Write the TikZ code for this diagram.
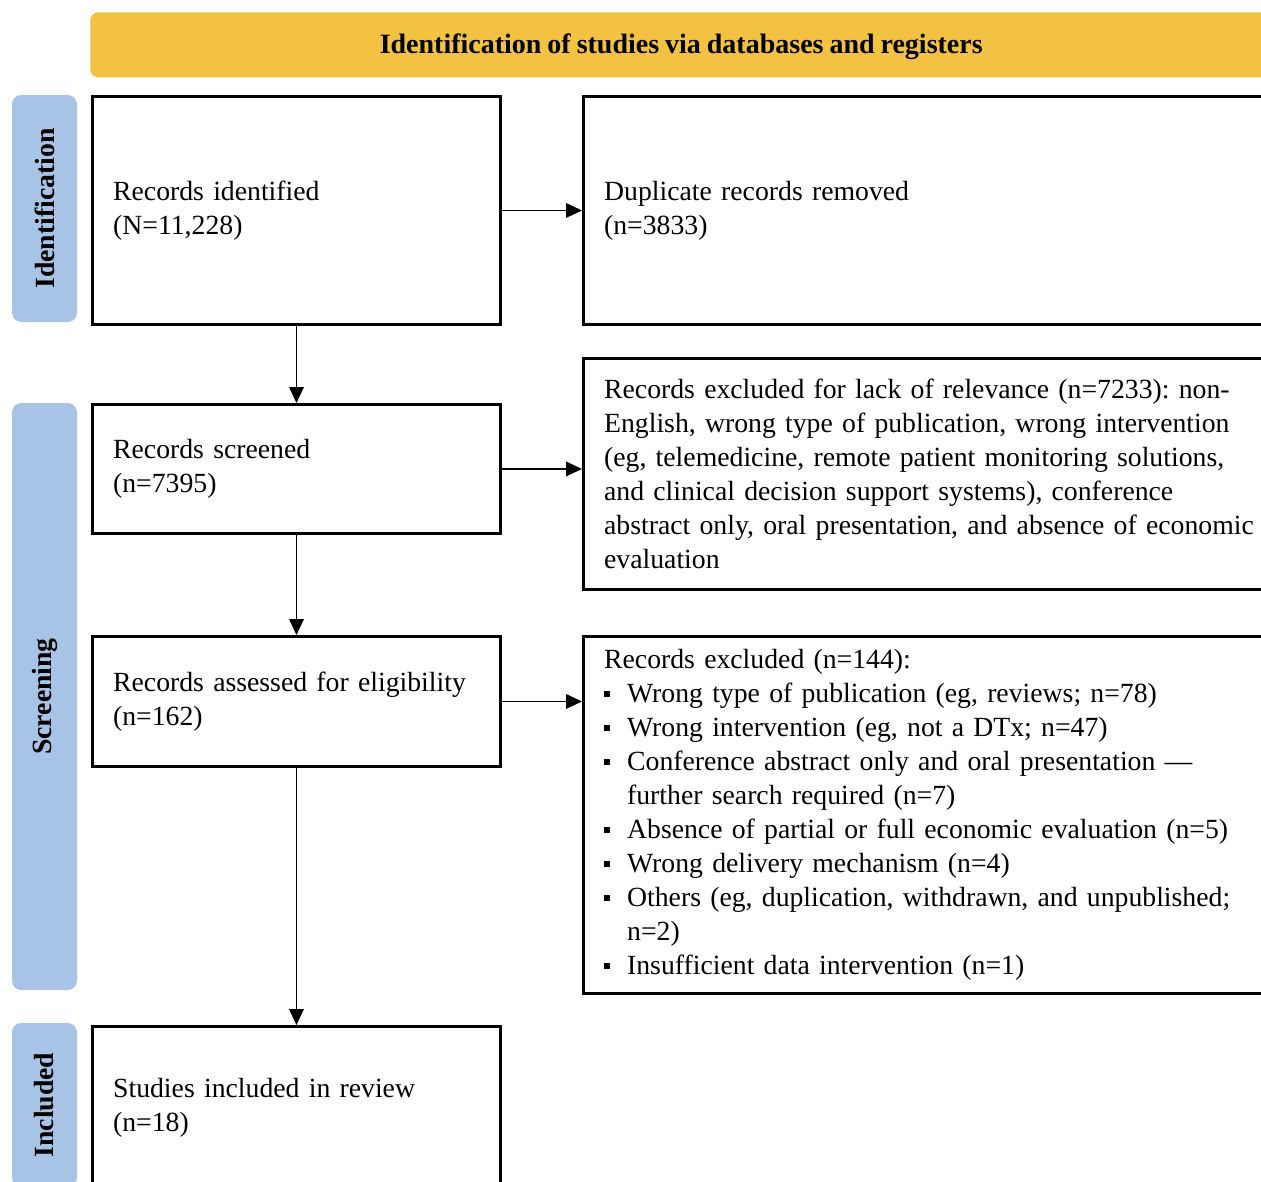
\documentclass[tikz,border=0pt]{standalone}
\usepackage{fontspec}
\setmainfont{Liberation Serif}[WordSpace=0.85]
\usetikzlibrary{arrows.meta}
\definecolor{banner}{RGB}{244,194,66}
\definecolor{sideblue}{RGB}{167,196,230}
\newcommand\bul{\makebox[17.25pt][l]{\rule[0.22em]{4.5pt}{4.5pt}}}
\newcommand\ind{\hspace*{17.25pt}}
\frenchspacing
\begin{document}
\begin{tikzpicture}[x=0.75pt,y=-0.75pt,
 txt/.style={font=\fontsize{20.8pt}{25.5pt}\selectfont\frenchspacing},
 box/.style={txt, draw, line width=2.2pt, anchor=north west, align=left, inner xsep=15.5pt, inner ysep=0pt},
 lbox/.style={box, text width=275pt, minimum width=306pt},
 rbox/.style={box, text width=510pt},
 side/.style={fill=sideblue, rounded corners=7pt, rotate=90, font=\fontsize{20.8pt}{25.5pt}\selectfont\bfseries, minimum height=48.75pt, inner sep=0pt},
 conn/.style={line width=1.1pt, -{Triangle[length=12pt,width=11pt]}}
]
\clip (0,0) rectangle (1261,1182);
\fill[white] (0,0) rectangle (1261,1182);
% banner
\node[fill=banner, rounded corners=6pt, anchor=north west, minimum width=886.5pt, minimum height=48.75pt, inner sep=0pt, text height=15.8pt, text depth=2pt, font=\fontsize{21pt}{25.5pt}\selectfont\bfseries] (ban) at (90,12) {Identification of studies via databases and registers};
% side labels
\node[side, minimum width=170.25pt] (sid) at (44.5,208.5) {Identification};
\node[side, minimum width=440.25pt] (sscr) at (44.5,696.5) {Screening};
\node[side, minimum width=123pt] (sinc) at (44.5,1105) {Included};
% boxes
\node[lbox, minimum height=171pt] (b1) at (91,95) {Records identified\\(N=11,228)};
\node[rbox, minimum height=171pt] (b2) at (582,95) {Duplicate records removed\\(n=3833)};
\node[lbox, minimum height=96.75pt] (b3) at (91,403) {Records screened\\(n=7395)};
\node[rbox, minimum height=173.25pt] (b4) at (582,357) {Records excluded for lack of relevance (n=7233): non-\\English, wrong type of publication, wrong intervention\\(eg, telemedicine, remote patient monitoring solutions,\\and clinical decision support systems), conference\\abstract only, oral presentation, and absence of economic\\evaluation};
\node[lbox, minimum height=97.5pt] (b5) at (91,635) {Records assessed for eligibility\\(n=162)};
\node[rbox, minimum height=267.75pt] (b6) at (582,635) {Records excluded (n=144):\\\bul Wrong type of publication (eg, reviews; n=78)\\\bul Wrong intervention (eg, not a DTx; n=47)\\\bul Conference abstract only and oral presentation ---\\\ind further search required (n=7)\\\bul Absence of partial or full economic evaluation (n=5)\\\bul Wrong delivery mechanism (n=4)\\\bul Others (eg, duplication, withdrawn, and unpublished;\\\ind n=2)\\\bul Insufficient data intervention (n=1)};
\node[lbox, minimum height=121.5pt] (b7) at (91,1025) {Studies included in review\\(n=18)};
% connectors
\draw[conn] (b1) -- (b2);
\draw[conn] (b3.east) -- (b3.east -| b4.west);
\draw[conn] (b5.east) -- (b5.east -| b6.west);
\draw[conn] (b1) -- (b3);
\draw[conn] (b3) -- (b5);
\draw[conn] (b5) -- (b7);
\end{tikzpicture}
\end{document}
